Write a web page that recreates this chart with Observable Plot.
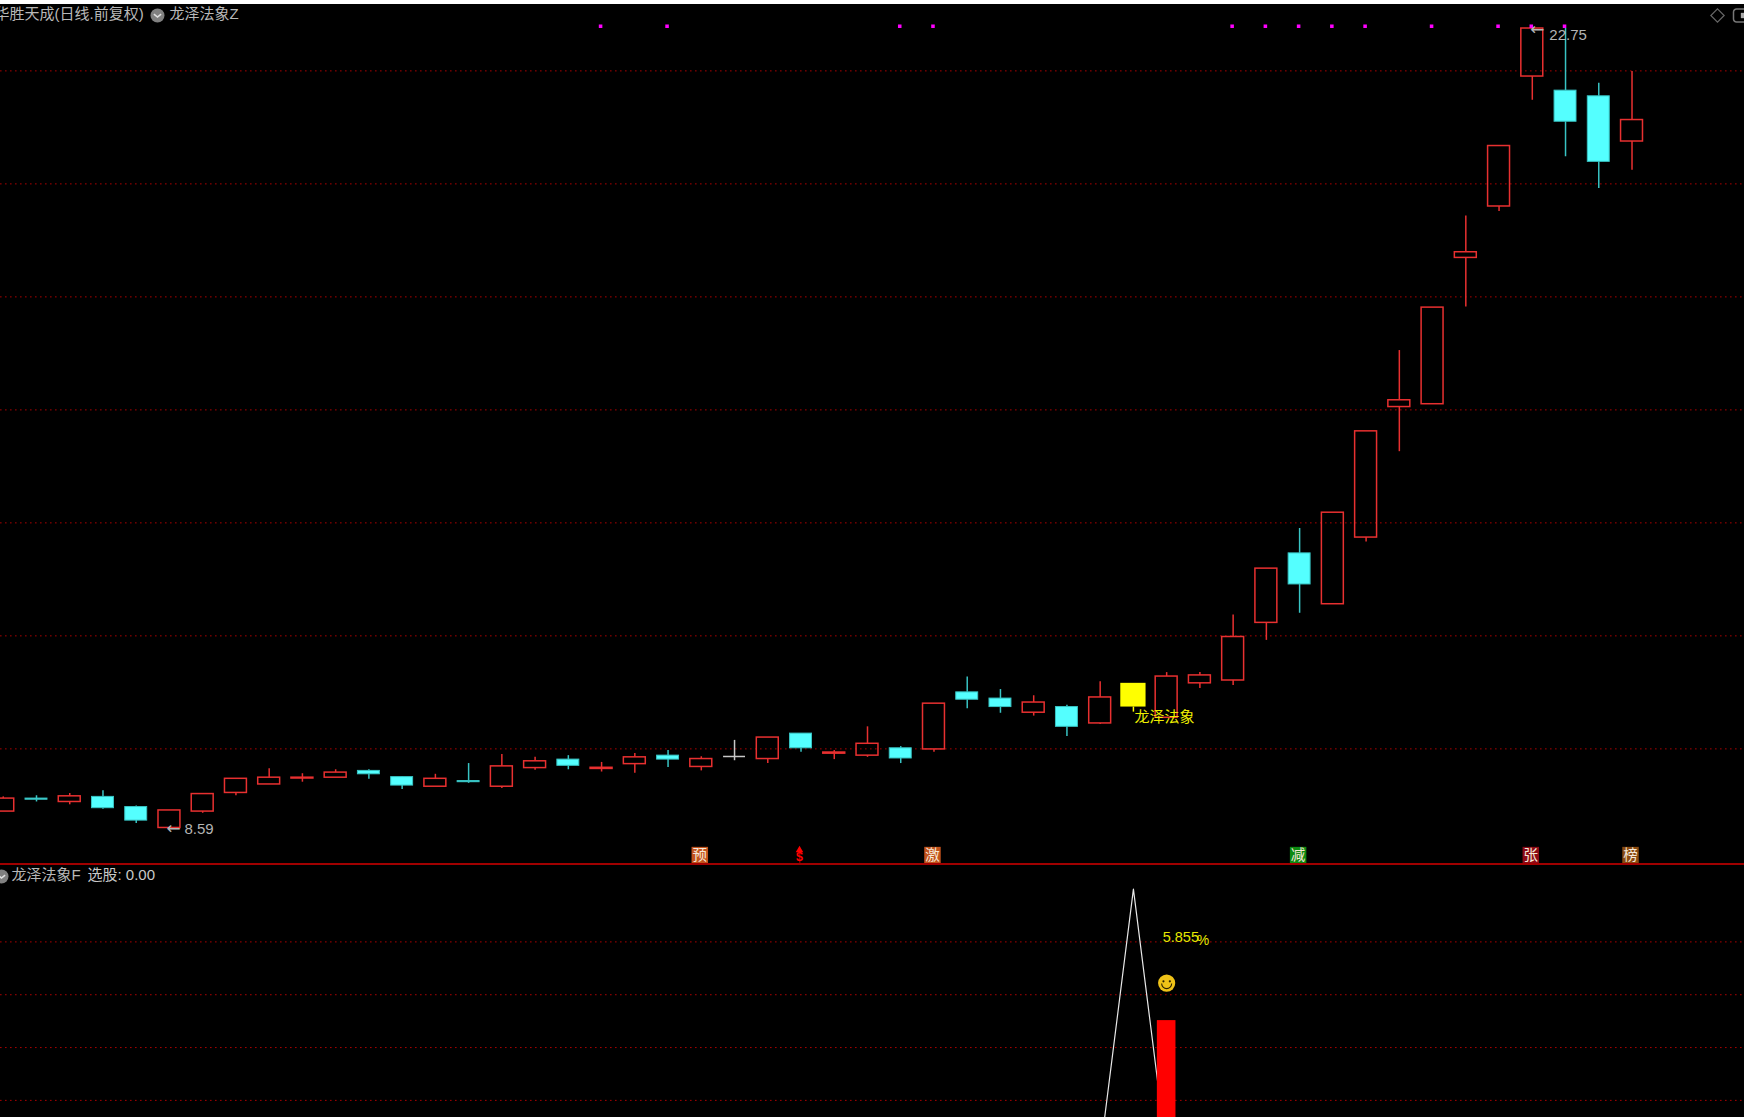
<!DOCTYPE html>
<html>
<head>
<meta charset="utf-8">
<script src="https://cdn.jsdelivr.net/npm/d3@7"></script>
<script src="https://cdn.jsdelivr.net/npm/@observablehq/plot@0.6"></script>
<style>
html,body{margin:0;padding:0;background:#000;overflow:hidden}
#strip{height:4px;background:#fff}
#divider{height:2px;background:#a00000}
svg{display:block}
</style>
</head>
<body>
<div id="strip"></div>
<div id="top"></div>
<div id="divider"></div>
<div id="bottom"></div>
<script>
// ---- daily prices ----
const opens = [8.89,9.12,9.06,9.15,8.97,8.60,8.89,9.22,9.37,9.475,9.49,9.61,9.50,9.33,9.43,9.33,9.66,9.81,9.645,9.73,9.88,9.68,9.865,9.82,10.27,9.915,9.88,10.01,9.99,11.00,10.89,10.64,10.74,10.45,10.74,10.55,11.16,11.21,12.23,13.46,12.56,13.74,16.05,16.10,18.69,19.60,21.90,21.65,21.55,20.75];
const closes = [9.12,9.10,9.16,8.95,8.73,8.91,9.20,9.47,9.49,9.49,9.58,9.55,9.35,9.47,9.41,9.69,9.78,9.70,9.665,9.85,9.81,9.82,9.865,10.20,10.01,9.935,10.09,9.83,10.80,10.87,10.74,10.82,10.39,10.91,11.16,11.28,11.30,11.98,13.19,12.91,14.18,15.62,16.17,17.81,18.79,20.67,22.75,21.10,20.39,21.13];
const highs = [9.15,9.17,9.21,9.26,8.99,8.91,9.20,9.47,9.65,9.56,9.63,9.63,9.51,9.55,9.74,9.90,9.85,9.88,9.76,9.92,9.97,9.86,10.15,10.20,10.27,9.97,10.39,10.04,10.80,11.27,11.05,10.94,10.77,11.19,11.16,11.35,11.35,12.37,13.19,13.90,14.18,15.62,17.05,17.81,19.43,20.67,22.75,22.75,21.78,21.99];
const lows = [8.89,9.06,9.01,8.93,8.68,8.59,8.86,9.17,9.37,9.41,9.49,9.46,9.28,9.33,9.39,9.30,9.62,9.63,9.59,9.57,9.67,9.61,9.79,9.74,9.94,9.81,9.85,9.74,9.94,10.71,10.63,10.58,10.22,10.43,10.65,10.55,11.07,11.12,11.92,12.40,12.56,13.66,15.26,16.10,17.82,19.51,21.48,20.48,19.92,20.24];
const highlightDay = 34;
const markerDays = [18,20,27,28,37,38,39,40,41,43,45,46,47];
const markerLevel = 22.79;
const priceGrid = [10,12,14,16,18,20,22];
const lowDay = 5, lowValue = 8.59, highDay = 46, highValue = 22.75;
const signalLabel = "龙泽法象";
const signalLevel = 10.56;
const badgeDays = [21,28,39,46,49];
const badgeTexts = ["预","激","减","张","榜"];
const badgeColors = ["#c2521c","#c2521c","#0d8a12","#8c0a16","#8a4a10"];
const badgeLevel = 8.12;
const dollarDay = 24;
const titleText = "华胜天成(日线.前复权)";
const indicatorTop = "龙泽法象Z";
const indicatorBottom = "龙泽法象F";
const pickLabel = "选股: 0.00";

// ---- lower panel ----
const lineDays = [33,34,35];
const lineValues = [0,2.5,0];
const barDay = 35, barValue = 1.255;
const lowerGrid = [0.5,1,1.5,2];
const pctValue = "5.855", pctLevel = 2.04;
const smileLevel = 1.61;

const days = opens.map((_, i) => i);
const FONT = '"Liberation Sans","Noto Sans CJK SC",sans-serif';
const xScale = {domain:[-0.083,52.384], range:[0,1744], axis:null};
const RED="#e83030", CYAN="#54ffff", CYANW="#38c4c4", GRID="#a80000", GREY="#b4b4b4", DOJI="#c8c8c8";
const bodyColor = i => closes[i] > opens[i] ? RED : closes[i] < opens[i] ? CYAN : DOJI;
const wickColor = i => i === highlightDay ? "#ffff00" : closes[i] > opens[i] ? RED : closes[i] < opens[i] ? CYANW : DOJI;

const chevron = {draw(c,size){const s=Math.sqrt(size/Math.PI);c.moveTo(-s,-s*0.4);c.lineTo(0,s*0.45);c.lineTo(s,-s*0.4);}};
const smile = {draw(c,size){const s=Math.sqrt(size/Math.PI);c.moveTo(-s,0);c.arc(0,0,s,Math.PI,0,true);}};
const roundBox = {draw(c,size){const w=Math.sqrt(size/Math.PI),h=6.5,r=3;
  c.moveTo(-w+r,-h);c.lineTo(w-r,-h);c.arcTo(w,-h,w,-h+r,r);c.lineTo(w,h-r);c.arcTo(w,h,w-r,h,r);c.lineTo(-w+r,h);c.arcTo(-w,h,-w,h-r,r);c.lineTo(-w,-h+r);c.arcTo(-w,-h,-w+r,-h,r);c.closePath();}};

const hollow = days.filter(i => closes[i] > opens[i] && i !== highlightDay);
const filled = days.filter(i => closes[i] < opens[i]);
const dojis = days.filter(i => closes[i] === opens[i]);

const topPlot = Plot.plot({
  width:1744, height:859,
  marginTop:0, marginRight:0, marginBottom:0, marginLeft:0,
  style:{background:"#000", fontFamily:FONT},
  x:xScale,
  y:{domain:[7.971,23.175], range:[859,0], axis:null},
  marks:[
    Plot.ruleY(priceGrid,{y:d=>d, stroke:GRID, strokeWidth:1, strokeDasharray:"1.6 3.4"}),
    // wicks
    Plot.ruleX(days,{x:d=>d, y1:i=>highs[i], y2:i=>Math.max(opens[i],closes[i]), stroke:wickColor, strokeWidth:1.5}),
    Plot.ruleX(days,{x:d=>d, y1:i=>lows[i], y2:i=>Math.min(opens[i],closes[i]), stroke:wickColor, strokeWidth:1.5}),
    // bodies
    Plot.rect(hollow,{x1:i=>i-0.33, x2:i=>i+0.33, y1:i=>opens[i], y2:i=>closes[i], fill:"none", stroke:bodyColor, strokeWidth:1.5}),
    Plot.rect(filled,{x1:i=>i-0.33, x2:i=>i+0.33, y1:i=>opens[i], y2:i=>closes[i], fill:CYAN, stroke:CYANW, strokeWidth:1}),
    Plot.ruleY(dojis,{y:i=>closes[i], x1:i=>i-0.33, x2:i=>i+0.33, stroke:DOJI, strokeWidth:1.5}),
    Plot.rect([highlightDay],{x1:i=>i-0.38, x2:i=>i+0.38, y1:i=>opens[i], y2:i=>closes[i], fill:"#ffff00"}),
    // magenta markers
    Plot.dot(markerDays,{x:d=>d, y:()=>markerLevel, symbol:"square", r:2, fill:"#ff00ff", dx:-1}),
    // high / low labels
    Plot.text([lowDay],{x:d=>d, y:()=>lowValue, text:()=>"←", fill:GREY, fontFamily:"DejaVu Sans", fontSize:17, textAnchor:"start", dx:-3}),
    Plot.text([lowDay],{x:d=>d, y:()=>lowValue, text:()=>String(lowValue), fill:GREY, fontSize:15, textAnchor:"start", dx:15, dy:1}),
    Plot.text([highDay],{x:d=>d, y:()=>highValue, text:()=>"←", fill:GREY, fontFamily:"DejaVu Sans", fontSize:17, textAnchor:"start", dx:-2, dy:1}),
    Plot.text([highDay],{x:d=>d, y:()=>highValue, text:()=>String(highValue), fill:GREY, fontSize:15, textAnchor:"start", dx:17, dy:7}),
    // signal label
    Plot.text([highlightDay],{x:d=>d, y:()=>signalLevel, text:()=>signalLabel, fill:"#eeee00", fontSize:15, textAnchor:"start", dx:1}),
    // badges
    Plot.dot(badgeDays,{x:d=>d, y:()=>badgeLevel, symbol:"square", r:9.3, fill:(d,i)=>badgeColors[i], dx:-1.5}),
    Plot.text(badgeDays,{x:d=>d, y:()=>badgeLevel, text:(d,i)=>badgeTexts[i], fill:"#f6e8d8", fontSize:14.5, dx:-1.5}),
    Plot.dot([dollarDay],{x:d=>d, y:()=>badgeLevel, symbol:"triangle", r:2.8, fill:"#ff0000", dx:-1.5, dy:-5}),
    Plot.text([dollarDay],{x:d=>d, y:()=>badgeLevel, text:()=>"$", fill:"#ff0000", fontSize:12.5, fontWeight:"bold", dx:-1.5, dy:1.5}),
    // header
    Plot.text([titleText],{frameAnchor:"top-left", text:d=>d, fill:"#b8b8b8", fontSize:15, dx:-6, dy:4}),
    Plot.dot([0],{frameAnchor:"top-left", r:7, fill:"#808080", dx:157, dy:11}),
    Plot.dot([0],{frameAnchor:"top-left", r:3.6, symbol:chevron, fill:"none", stroke:"#e0e0e0", strokeWidth:1.5, dx:157, dy:11}),
    Plot.text([indicatorTop],{frameAnchor:"top-left", text:d=>d, fill:"#b8b8b8", fontSize:15, dx:169, dy:4}),
    Plot.dot([0],{frameAnchor:"top-right", symbol:"diamond2", r:6, fill:"none", stroke:"#666", strokeWidth:1.2, dx:-27, dy:11}),
    Plot.dot([0],{frameAnchor:"top-right", symbol:roundBox, r:14, fill:"none", stroke:"#777", strokeWidth:1.5, dx:3, dy:11}),
    Plot.dot([0],{frameAnchor:"top-right", symbol:"square", r:3, fill:"#aaa", dx:-1, dy:11})
  ]
});
document.getElementById("top").append(topPlot);

const bottomPlot = Plot.plot({
  width:1744, height:252,
  marginTop:0, marginRight:0, marginBottom:0, marginLeft:0,
  style:{background:"#000", fontFamily:FONT},
  x:xScale,
  y:{domain:[0.338,2.723], range:[252,0], axis:null},
  marks:[
    Plot.ruleY(lowerGrid,{y:d=>d, stroke:GRID, strokeWidth:1, strokeDasharray:"1.6 3.4"}),
    Plot.line(lineDays,{x:d=>d, y:(d,i)=>lineValues[i], stroke:"#e8e8e8", strokeWidth:1.2, curve:"linear", clip:true}),
    Plot.rect([barDay],{x1:d=>d-0.28, x2:d=>d+0.28, y1:()=>0, y2:()=>barValue, fill:"#ff0000", clip:true}),
    Plot.text([pctValue],{x:()=>barDay, y:()=>pctLevel, text:d=>d, fill:"#e6e600", fontSize:14.5, textAnchor:"start", dx:-4}),
    Plot.text(["%"],{x:()=>barDay, y:()=>pctLevel, text:d=>d, fill:"#e6e600", fontSize:14, textAnchor:"start", dx:30, dy:3}),
    Plot.dot([barDay],{x:d=>d, y:()=>smileLevel, r:8.6, fill:"#efc218"}),
    Plot.dot([barDay],{x:d=>d, y:()=>smileLevel, r:1.1, fill:"#2a2000", dx:-3.2, dy:-1.8}),
    Plot.dot([barDay],{x:d=>d, y:()=>smileLevel, r:1.1, fill:"#2a2000", dx:3.2, dy:-1.8}),
    Plot.dot([barDay],{x:d=>d, y:()=>smileLevel, r:5, symbol:smile, fill:"none", stroke:"#2a2000", strokeWidth:1.1, dy:0.5}),
    Plot.dot([0],{frameAnchor:"top-left", r:7, fill:"#808080", dx:1, dy:11}),
    Plot.dot([0],{frameAnchor:"top-left", r:3.6, symbol:chevron, fill:"none", stroke:"#e0e0e0", strokeWidth:1.5, dx:1, dy:11}),
    Plot.text([indicatorBottom],{frameAnchor:"top-left", text:d=>d, fill:"#b8b8b8", fontSize:15, dx:11, dy:4}),
    Plot.text([pickLabel],{frameAnchor:"top-left", text:d=>d, fill:"#c8c8c8", fontSize:15, dx:87, dy:4})
  ]
});
document.getElementById("bottom").append(bottomPlot);
</script>
</body>
</html>
